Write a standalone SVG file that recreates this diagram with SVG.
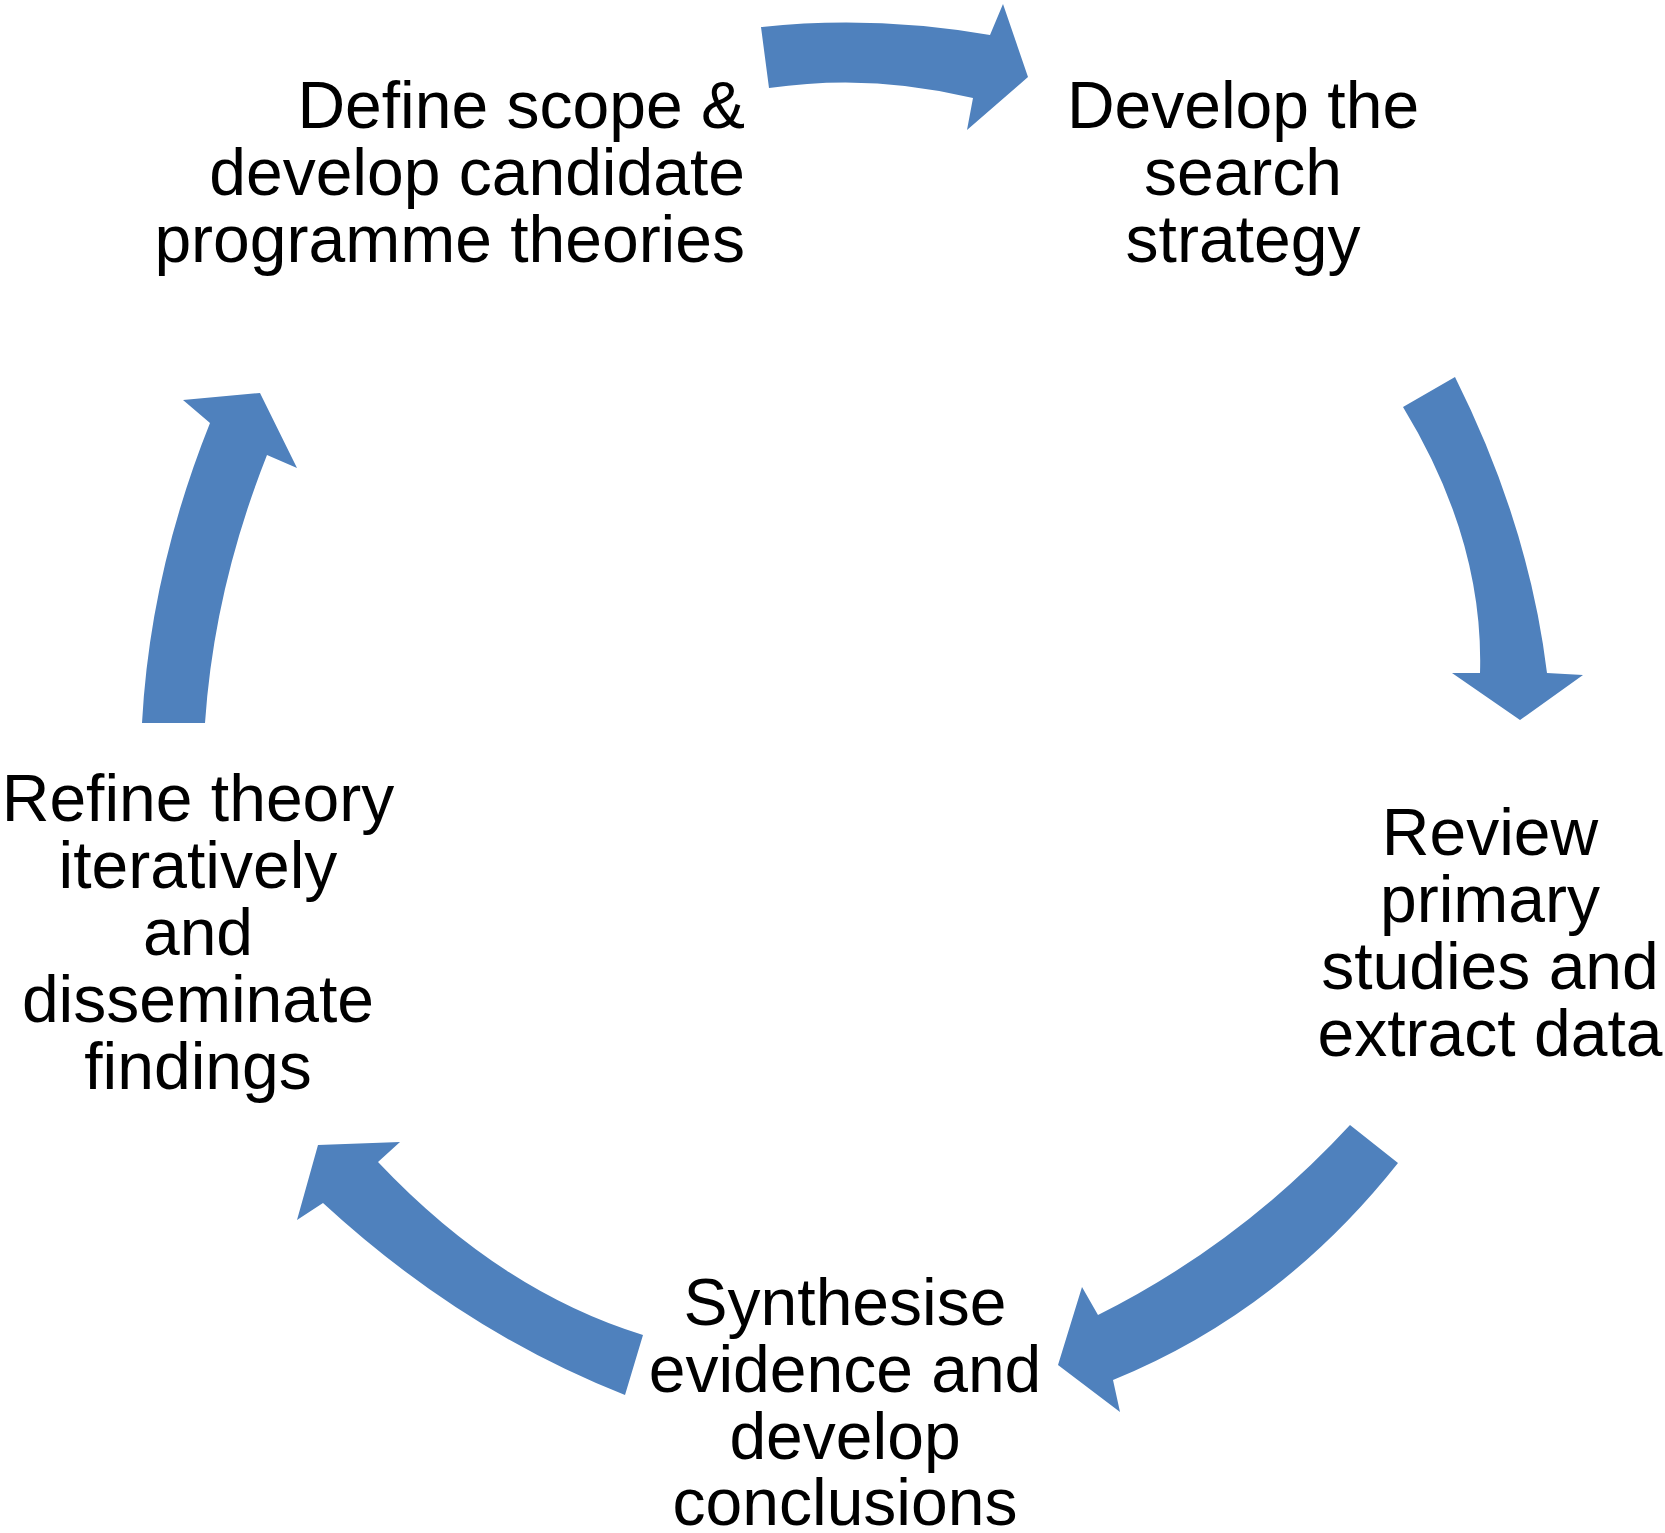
<svg xmlns="http://www.w3.org/2000/svg" width="1665" height="1533" viewBox="0 0 1665 1533">
<style>
.arrow{fill:#4F81BD;stroke:none}
.lbl{font-family:"Liberation Sans",Arial,sans-serif;font-size:66px;fill:#000}
.mid{text-anchor:middle}
.end{text-anchor:end}
</style>
<rect width="1665" height="1533" fill="#fff"/>
<g id="connectors">
<path class="arrow" d="M761,27 Q874,15 990,35 L1003,4 L1028,77 L967,130 L973,98 Q871,73 769,88 Z"/>
<path class="arrow" d="M1455,377 Q1529,525 1547,673 L1583,675 L1520,720 L1452,673 L1480,673 Q1484,540 1403,407 Z"/>
<path class="arrow" d="M1398,1163 Q1280,1312 1113,1380 L1120,1412 L1058,1365 L1082,1287 L1098,1315 Q1240,1244 1350,1125 Z"/>
<path class="arrow" d="M625,1395 Q462,1331 323,1203 L297,1220 L318,1145 L400,1142 L378,1162 Q500,1291 643,1335 Z"/>
<path class="arrow" d="M142,723 Q150,573 210,423 L183,400 L260,393 L297,468 L267,455 Q214,589 205,723 Z"/>
</g>
<g id="node-define">
<text class="lbl end" x="745" y="128">Define scope &amp;</text>
<text class="lbl end" x="745" y="195">develop candidate</text>
<text class="lbl end" x="745" y="262">programme theories</text>
</g>
<g id="node-search">
<text class="lbl mid" x="1243" y="128">Develop the</text>
<text class="lbl mid" x="1243" y="195">search</text>
<text class="lbl mid" x="1243" y="262">strategy</text>
</g>
<g id="node-review">
<text class="lbl mid" x="1490" y="855">Review</text>
<text class="lbl mid" x="1490" y="922">primary</text>
<text class="lbl mid" x="1490" y="989">studies and</text>
<text class="lbl mid" x="1490" y="1056">extract data</text>
</g>
<g id="node-synthesise">
<text class="lbl mid" x="845" y="1325">Synthesise</text>
<text class="lbl mid" x="845" y="1392">evidence and</text>
<text class="lbl mid" x="845" y="1459">develop</text>
<text class="lbl mid" x="845" y="1525">conclusions</text>
</g>
<g id="node-refine">
<text class="lbl mid" x="198" y="821">Refine theory</text>
<text class="lbl mid" x="198" y="888">iteratively</text>
<text class="lbl mid" x="198" y="955">and</text>
<text class="lbl mid" x="198" y="1022">disseminate</text>
<text class="lbl mid" x="198" y="1089">findings</text>
</g>
</svg>
